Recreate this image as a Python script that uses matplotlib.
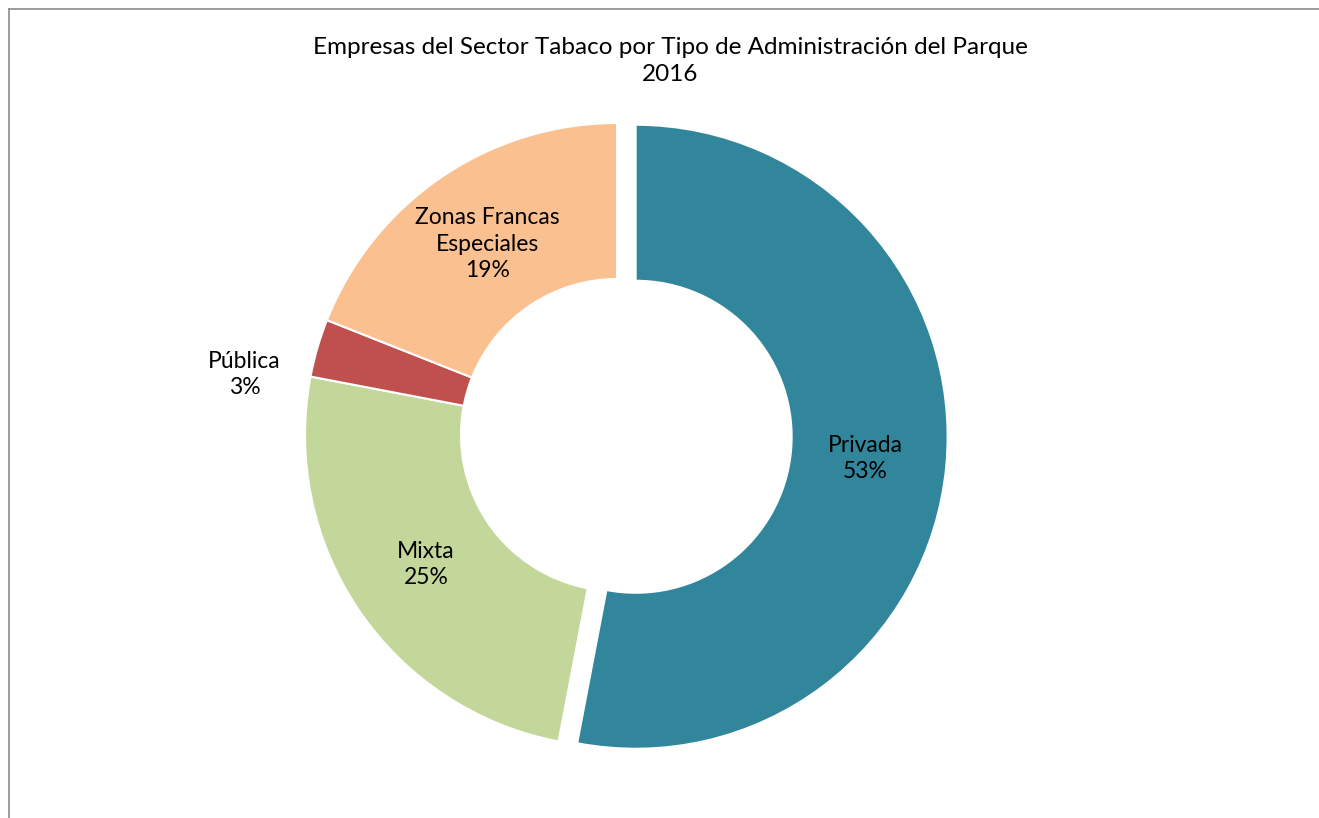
import numpy as np
import matplotlib
matplotlib.use("Agg")
import matplotlib.pyplot as plt
from matplotlib.lines import Line2D

plt.rcParams['font.family'] = ['Lato', 'DejaVu Sans']

# Datos del grafico
categorias = ["Privada", "Mixta", "Pública", "Zonas Francas\nEspeciales"]
porcentajes = [53, 25, 3, 19]
colores = ["#31869B", "#C4D79B", "#C0504D", "#FAC090"]
separacion = [0.06, 0, 0, 0]

titulo = "Empresas del Sector Tabaco por Tipo de Administración del Parque\n2016"

fig = plt.figure(figsize=(13.19, 8.18), dpi=100)
L = 1.3
R_px = 312
w = 2 * L * R_px / 1319
h = 2 * L * R_px / 818
ax = fig.add_axes([617 / 1319 - w / 2, (818 - 435) / 818 - h / 2, w, h])

wedges, _ = ax.pie(porcentajes, colors=colores, startangle=90, counterclock=False,
                   explode=separacion, radius=1,
                   wedgeprops=dict(width=0.5, edgecolor="white", linewidth=1.5))
ax.set_xlim(-L, L)
ax.set_ylim(-L, L)
ax.set_aspect("equal")
ax.axis("off")

# Etiquetas de datos
for i, (wd, cat, p) in enumerate(zip(wedges, categorias, porcentajes)):
    ang = np.deg2rad((wd.theta1 + wd.theta2) / 2)
    cx, cy = wd.center
    if p < 5:
        # etiqueta fuera del anillo
        ang = ang + np.deg2rad(7)
        r = 1.21
    else:
        r = 0.74
    ax.text(cx + r * np.cos(ang), cy + r * np.sin(ang), f"{cat}\n{p}%",
            ha="center", va="center", fontsize=16.5, color="black", linespacing=1.3)

fig.text(0.508, 1 - 61 / 818, titulo, ha="center", va="center", fontsize=17.5, linespacing=1.3)

# Borde del area del grafico
fig.add_artist(Line2D([9 / 1319, 1], [1 - 9 / 818, 1 - 9 / 818], transform=fig.transFigure,
                      color="#8c8c8c", linewidth=1.2))
fig.add_artist(Line2D([9 / 1319, 9 / 1319], [0, 1 - 9 / 818], transform=fig.transFigure,
                      color="#8c8c8c", linewidth=1.2))

fig.savefig("out.png", dpi=100, facecolor="white")
